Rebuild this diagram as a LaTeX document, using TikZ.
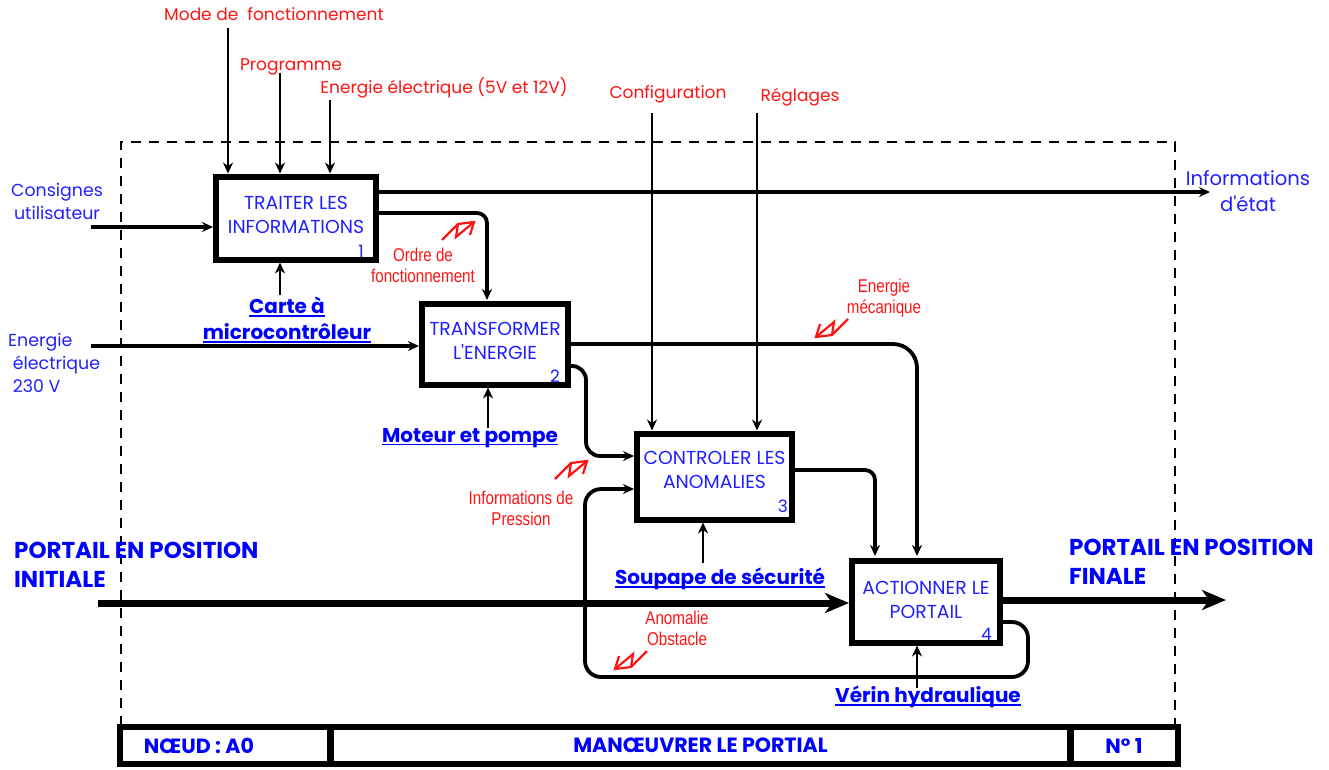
\documentclass[tikz,border=0pt]{standalone}
\usepackage{fontspec}
\usepackage{tikz}
\usetikzlibrary{arrows.meta}
\setmainfont{Liberation Sans}
\newfontfamily\gothfont{Poppins}
\newfontfamily\narrowfont[FakeStretch=0.82]{Liberation Sans}
\definecolor{txtblue}{RGB}{32,32,255}
\definecolor{txtred}{RGB}{255,20,20}
\newcommand{\souligne}[1]{\setbox0\hbox{#1}\rlap{\rule[-3pt]{\wd0}{1.6pt}}\box0}
\tikzset{
	>={Stealth[length=11pt,width=10pt]},
	flow/.style={draw=black,line width=2.8pt,->},
	flowbold/.style={draw=black,line width=3.8pt,->,rounded corners=14pt},
	mainflow/.style={draw=black,line width=7pt,-{Stealth[length=24pt,width=20pt,inset=7pt]}},
	func/.style={draw=black,fill=white,line width=6pt,inner sep=0pt,align=center,text=txtblue,
		font=\gothfont\fontsize{18.8}{24}\selectfont},
	funcnum/.style={text=txtblue,inner sep=0pt,anchor=south east,font=\gothfont\fontsize{17}{17}\selectfont},
	tabcell/.style={draw=black,line width=6pt,minimum height=37pt,inner sep=0pt,text=blue,
		font=\gothfont\bfseries\fontsize{20.6}{24}\selectfont},
	redlabel/.style={text=txtred,align=center,inner sep=0pt,font=\gothfont\fontsize{17}{20}\selectfont},
	flowlabel/.style={text=txtred,align=center,inner sep=0pt,font=\narrowfont\fontsize{18.5}{21}\selectfont},
	bluelabel/.style={text=txtblue,align=center,inner sep=0pt,font=\gothfont\fontsize{17.4}{23}\selectfont},
	support/.style={text=blue,align=center,inner sep=0pt,font=\gothfont\bfseries\fontsize{20}{26}\selectfont},
	portail/.style={text=blue,align=left,inner sep=0pt,anchor=west,font=\gothfont\bfseries\fontsize{23}{29}\selectfont},
	bolt/.pic={
		\draw[txtred,line width=2.2pt] (0,0) -- (16,-16) -- (32,-18) -- (28,-5);
		\draw[txtred,line width=2.2pt] (16,-16) -- (14,-3) -- (32,-18);
	}
}
\begin{document}
\begin{tikzpicture}[x=1pt,y=-1pt]
	\useasboundingbox (0,0) rectangle (1329,769);
	% cadre
	\draw[line width=2.4pt,dash pattern=on 10pt off 8pt] (121,726) -- (121,142) -- (1175,142) -- (1175,726);
	% fonctions
	\node[func,minimum width=160pt,minimum height=83pt,text depth=6pt] (b1) at (296,218) {TRAITER LES\\INFORMATIONS};
	\node[func,minimum width=146pt,minimum height=81pt,text depth=6pt] (b2) at (495,344) {TRANSFORMER\\L'ENERGIE};
	\node[func,minimum width=155pt,minimum height=86pt,text depth=13pt] (b3) at (714.5,476.5) {CONTROLER LES\\ANOMALIES};
	\node[func,minimum width=148pt,minimum height=82pt,text depth=4pt] (b4) at (926,601.5) {ACTIONNER LE\\PORTAIL};
	\node[funcnum,xshift=-15pt,yshift=5pt] (n1) at (b1.south east) {1};
	\node[funcnum,xshift=-11pt,yshift=5pt] (n2) at (b2.south east) {2};
	\node[funcnum,xshift=-7pt,yshift=10pt] (n3) at (b3.south east) {3};
	\node[funcnum,xshift=-11pt,yshift=5pt] (n4) at (b4.south east) {4};
	% textes
	\node[redlabel] (lmode) at (274,14) {Mode de\ \ fonctionnement};
	\node[redlabel] (lprog) at (291,67) {Programme};
	\node[redlabel] (lelec) at (444,88) {Energie électrique (5V et 12V)};
	\node[redlabel] (lconf) at (668,94) {Configuration};
	\node[redlabel] (lregl) at (800,97) {Réglages};
	\node[bluelabel] (lcons) at (57,201) {Consignes\\utilisateur};
	\node[bluelabel,align=left,anchor=north west] (lener) at (8,333) {Energie\\\ électrique\\\ 230 V};
	\node[bluelabel,font=\gothfont\fontsize{19.6}{26}\selectfont] (linfo) at (1248,191) {Informations\\d'état};
	\node[support] (scarte) at (287,320) {\souligne{Carte à}\\\souligne{microcontrôleur}};
	\node[support] (smoteur) at (470,438) {\souligne{Moteur et pompe}};
	\node[support] (ssoup) at (720,579) {\souligne{Soupape de sécurité}};
	\node[support] (sverin) at (928,697) {\souligne{Vérin hydraulique}};
	\node[flowlabel] (lordre) at (423,265.5) {Ordre de\\fonctionnement};
	\node[flowlabel] (lmeca) at (884,298) {Energie\\mécanique};
	\node[flowlabel] (lpres) at (521,508) {Informations de\\Pression};
	\node[flowlabel] (lanom) at (677,628.5) {Anomalie\\Obstacle};
	\node[portail] (pinit) at (14,564.5) {PORTAIL EN POSITION\\INITIALE};
	\node[portail] (pfin) at (1069,562) {PORTAIL EN POSITION\\FINALE};
	% extremites libres
	\coordinate (m1) at (228,28);
	\coordinate (m2) at (280,73);
	\coordinate (m3) at (330,100);
	\coordinate (m4) at (652,113);
	\coordinate (m5) at (757,113);
	\coordinate (e1) at (91,227);
	\coordinate (e2) at (91,346);
	\coordinate (e3) at (98,603);
	\coordinate (s1) at (1226,600);
	% controles et supports
	\draw[flow] (m1) -- (m1 |- b1.north);
	\draw[flow] (m2) -- (m2 |- b1.north);
	\draw[flow] (m3) -- (m3 |- b1.north);
	\draw[flow] (m4) -- (m4 |- b3.north);
	\draw[flow] (m5) -- (m5 |- b3.north);
	\draw[flow] (280,295) coordinate (u1) -- (u1 |- b1.south);
	\draw[flow] (488,428) coordinate (u2) -- (u2 |- b2.south);
	\draw[flow] (703,563) coordinate (u3) -- (u3 |- b3.south);
	\draw[flow] (917,688) coordinate (u4) -- (u4 |- b4.south);
	% entrees
	\draw[flowbold] (e1) -- (e1 -| b1.west);
	\draw[flowbold] (e2) -- (e2 -| b2.west);
	% liaisons
	\draw[flowbold] (b1.east |- 0,192) -- (1210,192) coordinate (c1);
	\draw[flowbold,rounded corners=10pt] (b1.east |- 0,213) -- (487,213) -- (487,300);
	\draw[flowbold,rounded corners=24pt] (b2.east |- 0,344) -- (917,344) -- (917,556);
	\draw[flowbold,rounded corners=14pt] (b2.east |- 0,366) -- (586,366) -- (586,456) -- (b3.west |- 0,456);
	\draw[flowbold,rounded corners=10pt] (b3.east |- 0,470) -- (875,470) -- (875,556);
	\draw[flowbold,rounded corners=16pt] (b4.east |- 0,622) -- (1028,622) -- (1028,677) -- (585,677) -- (585,489) -- (b3.west |- 0,489);
	% flux principal
	\draw[mainflow] (e3) -- (e3 -| b4.west);
	\draw[mainflow] (b4.east |- s1) -- (s1);
	% eclairs
	\pic at (442,240) {bolt};
	\pic at (555,479) {bolt};
	\pic[rotate=180] at (848,319) {bolt};
	\pic[rotate=180] at (647,651) {bolt};
	% cartouche
	\node[tabcell,minimum width=210pt] (t1) at (225,745.5) {NŒUD : A0\hspace*{52pt}};
	\node[tabcell,minimum width=739pt] (t2) at (700.5,745.5) {MANŒUVRER LE PORTIAL};
	\node[tabcell,minimum width=107pt] (t3) at (1124,745.5) {N° 1};
\end{tikzpicture}
\end{document}
